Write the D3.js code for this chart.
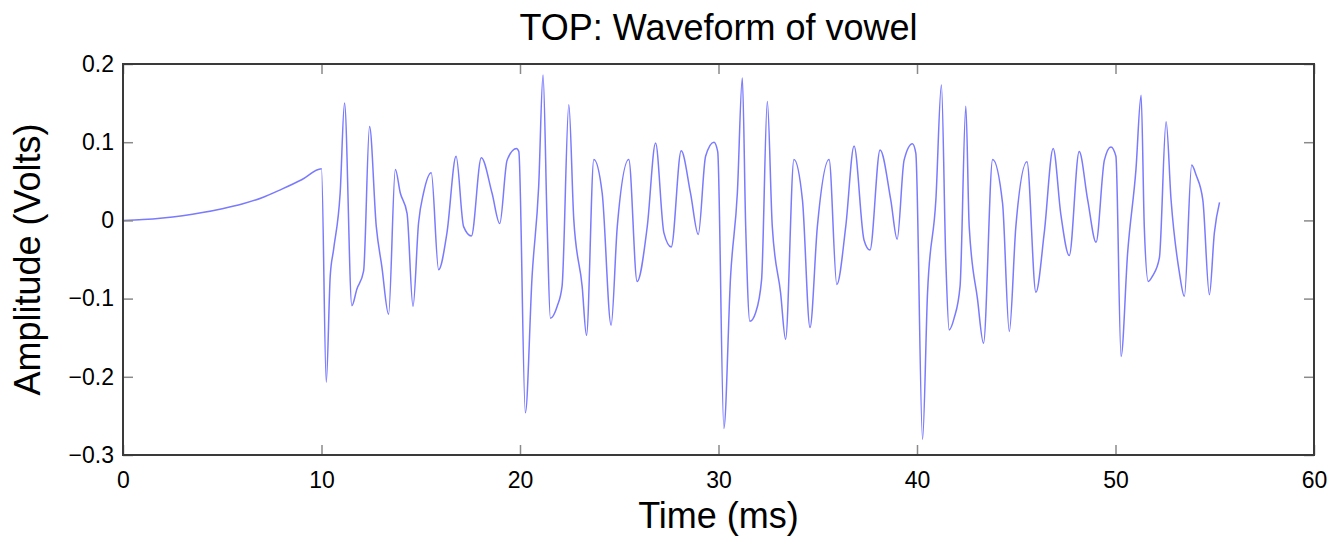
<!DOCTYPE html>
<html>
<head>
<meta charset="utf-8">
<script src="https://cdn.jsdelivr.net/npm/d3@7"></script>
<style>
  html, body { margin: 0; padding: 0; background: #fff; }
  svg { display: block; font-family: "Liberation Sans", Arial, Helvetica, sans-serif; }
  .tick text { font-size: 23px; fill: #000; }
</style>
</head>
<body>
<svg id="chart" width="1333" height="538"></svg>
<script>
// Sampled vowel waveform: time in milliseconds, amplitude in volts.
const timeMs = [
  0, 1, 2, 3, 4, 5, 6, 7, 8, 9, 10,
  10.24, 10.44, 10.61, 10.94, 11.16, 11.53, 11.78, 12.12, 12.42, 12.76, 13.04, 13.38, 13.72, 13.97,
  14.31, 14.61, 14.89, 15.14, 15.53, 15.90, 16.32, 16.78, 17.16, 17.55, 18.05, 18.59, 18.98, 19.35,
  19.82, 19.94,
  20.27, 20.61, 20.94, 21.16, 21.37, 21.53, 21.87, 22.12, 22.46, 22.71, 23.13, 23.35, 23.72, 24.14,
  24.59, 24.90, 25.48, 25.90, 26.41, 26.83, 27.25, 27.62, 28.12, 28.59, 28.98, 29.35, 29.77, 29.96,
  30.27, 30.61, 30.95, 31.20, 31.37, 31.58, 31.87, 32.17, 32.46, 32.71, 33.13, 33.38, 33.80, 34.23,
  34.61, 34.98, 35.57, 35.96, 36.41, 36.83, 37.33, 37.63, 38.14, 38.68, 39.00, 39.35, 39.77, 39.94,
  40.28, 40.53, 40.95, 41.23, 41.45, 41.62, 41.87, 42.17, 42.46, 42.63, 43.05, 43.35, 43.81, 44.31,
  44.65, 44.98, 45.54, 45.99, 46.41, 46.86, 47.25, 47.67, 48.17, 48.60, 49.02, 49.44, 49.77, 50.02,
  50.28, 50.61, 51.03, 51.29, 51.45, 51.65, 51.87, 52.21, 52.55, 52.80, 53.22, 53.47, 53.84, 54.06,
  54.40, 54.73, 54.98, 55.24
];
const amplitudeV = [
  0, 0.001, 0.003, 0.006, 0.010, 0.015, 0.021, 0.029, 0.040, 0.052, 0.066,
  -0.207, -0.071, -0.037, 0.035, 0.150, -0.109, -0.088, -0.065, 0.120, -0.008, -0.059, -0.120, 0.065, 0.035,
  0.009, -0.110, -0.003, 0.035, 0.061, -0.063, -0.016, 0.082, -0.008, -0.020, 0.080, 0.035, -0.004, 0.077,
  0.092, 0.088,
  -0.246, -0.071, 0.043, 0.186, -0.008, -0.125, -0.110, -0.084, 0.148, 0.001, -0.084, -0.147, 0.078, 0.035,
  -0.134, -0.008, 0.078, -0.078, -0.008, 0.099, -0.016, -0.034, 0.089, 0.035, -0.018, 0.082, 0.100, 0.088,
  -0.266, -0.071, 0.035, 0.182, -0.008, -0.129, -0.118, -0.076, 0.152, -0.008, -0.093, -0.152, 0.078, 0.026,
  -0.137, -0.008, 0.078, -0.082, -0.008, 0.095, -0.025, -0.038, 0.090, 0.026, -0.024, 0.077, 0.098, 0.086,
  -0.280, -0.093, 0.026, 0.173, -0.050, -0.140, -0.125, -0.084, 0.146, -0.008, -0.101, -0.157, 0.078, 0.022,
  -0.142, -0.008, 0.075, -0.092, -0.016, 0.092, 0.007, -0.045, 0.088, 0.026, -0.028, 0.077, 0.094, 0.082,
  -0.174, -0.042, 0.065, 0.160, -0.008, -0.078, -0.071, -0.048, 0.126, 0.026, -0.067, -0.097, 0.071, 0.058,
  0.026, -0.095, -0.016, 0.023
];
const xTicks = [0, 10, 20, 30, 40, 50, 60];
const yTicks = [-0.3, -0.2, -0.1, 0, 0.1, 0.2];

const titleText = "TOP: Waveform of vowel";
const xLabelText = "Time (ms)";
const yLabelText = "Amplitude (Volts)";

const svg = d3.select("#chart");
const margin = { left: 123, right: 19, top: 64, bottom: 83 };
const W = 1333, H = 538;
const plotW = W - margin.left - margin.right;
const plotH = H - margin.top - margin.bottom;

const x = d3.scaleLinear().domain([0, 60]).range([0, plotW]);
const y = d3.scaleLinear().domain([-0.3, 0.2]).range([plotH, 0]);

const g = svg.append("g").attr("transform", `translate(${margin.left},${margin.top})`);

// Waveform trace
const points = timeMs.map((t, i) => [t, amplitudeV[i]]);
const line = d3.line()
  .x(d => x(d[0]))
  .y(d => y(d[1]))
  .curve(d3.curveMonotoneX);

g.append("path")
  .datum(points)
  .attr("fill", "none")
  .attr("stroke", "#7a7aff")
  .attr("stroke-width", 1.5)
  .attr("stroke-linejoin", "round")
  .attr("d", line);

// Boxed axes with inward ticks on all four sides
const tickLen = 10;
function styleAxis(sel) {
  sel.select(".domain").remove();
  sel.selectAll(".tick line").attr("stroke", "#8a8a8a").attr("stroke-width", 1.5);
}

g.append("g")
  .attr("transform", `translate(0,${plotH})`)
  .call(d3.axisBottom(x).tickValues(xTicks).tickFormat(d3.format("d")).tickSize(-tickLen).tickPadding(17))
  .call(styleAxis)
  .call(s => s.selectAll("text").attr("font-size", 23));

g.append("g")
  .call(d3.axisTop(x).tickValues(xTicks).tickFormat("").tickSize(-tickLen))
  .call(styleAxis);

g.append("g")
  .call(d3.axisLeft(y).tickValues(yTicks).tickFormat(d3.format(".1~f")).tickSize(-tickLen).tickPadding(9))
  .call(styleAxis)
  .call(s => s.selectAll("text").attr("font-size", 23));

g.append("g")
  .attr("transform", `translate(${plotW},0)`)
  .call(d3.axisRight(y).tickValues(yTicks).tickFormat("").tickSize(-tickLen))
  .call(styleAxis);

// Plot frame
g.append("rect")
  .attr("x", 0).attr("y", 0)
  .attr("width", plotW).attr("height", plotH)
  .attr("fill", "none")
  .attr("stroke", "#3a3a3a")
  .attr("stroke-width", 2);

// Title and axis labels
svg.append("text")
  .attr("x", margin.left + plotW / 2)
  .attr("y", 40)
  .attr("text-anchor", "middle")
  .attr("font-size", 36)
  .attr("fill", "#000")
  .text(titleText);

svg.append("text")
  .attr("x", margin.left + plotW / 2)
  .attr("y", 528)
  .attr("text-anchor", "middle")
  .attr("font-size", 36)
  .attr("fill", "#000")
  .text(xLabelText);

svg.append("text")
  .attr("transform", `translate(40,${margin.top + plotH / 2}) rotate(-90)`)
  .attr("text-anchor", "middle")
  .attr("font-size", 36)
  .attr("fill", "#000")
  .text(yLabelText);
</script>
</body>
</html>
